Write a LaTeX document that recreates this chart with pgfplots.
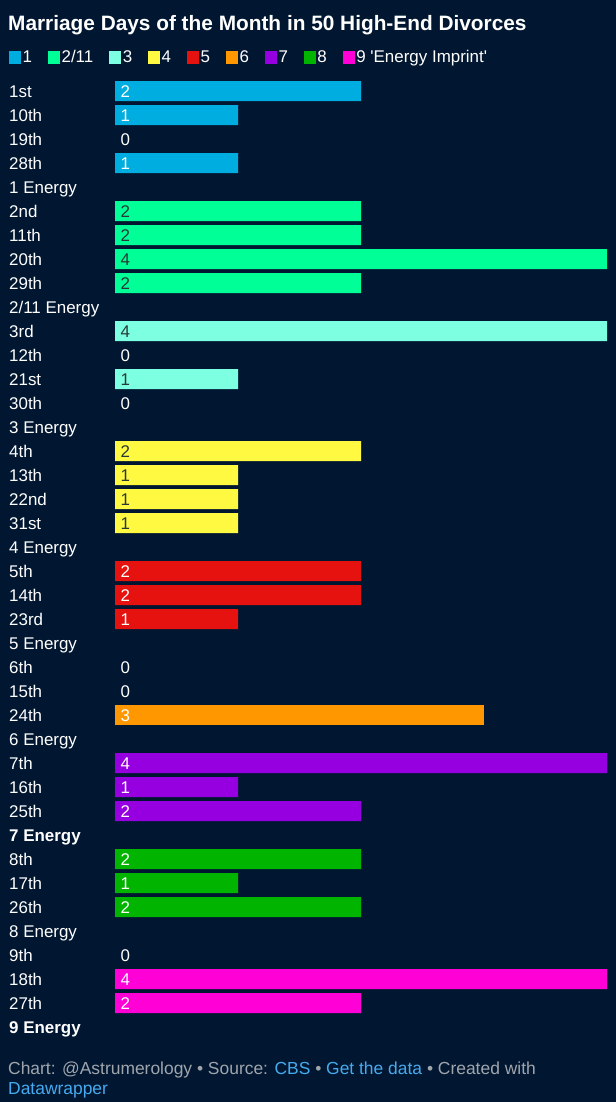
\documentclass[border=0pt]{standalone}
\usepackage{pgfplots}
\usepackage{pgfplotstable}
\pgfplotsset{compat=1.18}
\usepackage{fontspec}
\setmainfont{Liberation Sans}
\definecolor{bg}{RGB}{1,23,49}
\definecolor{cA}{RGB}{0,173,224}
\definecolor{cB}{RGB}{0,255,150}
\definecolor{cC}{RGB}{125,255,225}
\definecolor{cD}{RGB}{255,250,65}
\definecolor{cE}{RGB}{230,18,15}
\definecolor{cF}{RGB}{255,152,0}
\definecolor{cG}{RGB}{150,0,225}
\definecolor{cH}{RGB}{0,180,0}
\definecolor{cI}{RGB}{255,0,215}
\definecolor{darktxt}{RGB}{40,55,55}
\definecolor{foot}{RGB}{160,165,172}
\definecolor{link}{RGB}{70,170,240}

\pgfplotstableread{
y v
0 2
1 1
2 0
3 1
}\tA
\pgfplotstableread{
y v
5 2
6 2
7 4
8 2
}\tB
\pgfplotstableread{
y v
10 4
11 0
12 1
13 0
}\tC
\pgfplotstableread{
y v
15 2
16 1
17 1
18 1
}\tD
\pgfplotstableread{
y v
20 2
21 2
22 1
}\tE
\pgfplotstableread{
y v
24 0
25 0
26 3
}\tF
\pgfplotstableread{
y v
28 4
29 1
30 2
}\tG
\pgfplotstableread{
y v
32 2
33 1
34 2
}\tH
\pgfplotstableread{
y v
36 0
37 4
38 2
}\tI

\newcommand\lblfont{\fontsize{17}{20}\selectfont}
\newcommand\grp[3]{%
  \addplot[xbar, bar shift=0pt, bar width=20bp, fill=#2, draw=none,
    restrict expr to domain={\thisrow{v}}{0.5:10}] table[x=v,y=y]{#1};
  \addplot[forget plot, draw=none, nodes near coords, point meta=explicit,
    restrict expr to domain={\thisrow{v}}{0.5:10},
    nodes near coords style={anchor=base west, inner sep=0pt, xshift=5.5bp, yshift=-6bp, text=#3, font=\lblfont}]
    table[x expr=0,y=y,meta=v]{#1};
  \addplot[forget plot, draw=none, nodes near coords, point meta=explicit,
    restrict expr to domain={\thisrow{v}}{-1:0.5},
    nodes near coords style={anchor=base west, inner sep=0pt, xshift=5.5bp, yshift=-6bp, text=white, font=\lblfont}]
    table[x expr=0,y=y,meta=v]{#1};
}

\begin{document}
\begin{tikzpicture}
\fill[bg] (0bp,0bp) rectangle (616bp,-1102bp);
\useasboundingbox (0bp,0bp) rectangle (616bp,-1102bp);
\node[anchor=base west, inner sep=0pt, text=white, font=\bfseries\fontsize{20.9}{24}\selectfont] at (8bp,-30bp) {Marriage Days of the Month in 50 High-End Divorces};
\begin{axis}[
  at={(115bp,-79bp)}, anchor=north west,
  scale only axis, width=492bp, height=960bp,
  xmin=0, xmax=4, ymin=-0.5, ymax=39.5,
  y dir=reverse, clip=false,
  axis line style={draw=none}, major tick length=0pt,
  xtick=\empty,
  ytick={0,...,39},
  yticklabels={1st,10th,19th,28th,1 Energy,2nd,11th,20th,29th,2/11 Energy,3rd,12th,21st,30th,3 Energy,4th,13th,22nd,31st,4 Energy,5th,14th,23rd,5 Energy,6th,15th,24th,6 Energy,7th,16th,25th,{\bfseries 7 Energy},8th,17th,26th,8 Energy,9th,18th,27th,{\bfseries 9 Energy}},
  yticklabel style={anchor=base west, inner sep=0pt, xshift=-106bp, yshift=-6bp, text=white, font=\lblfont},
  /pgf/number format/assume math mode=true,
  legend columns=-1,
  legend image code/.code={\draw[#1,draw=none] (0bp,-6.5bp) rectangle (12bp,6.5bp);},
  legend style={draw=none, fill=none, text=white, font=\lblfont,
    at={(axis description cs:0,1)}, anchor=west, xshift=-106bp, yshift=22bp,
    inner sep=0pt, nodes={inner sep=1.5bp},
    /tikz/every even column/.append style={column sep=14.5bp}},
]
\grp{\tA}{cA}{white}
\grp{\tB}{cB}{darktxt}
\grp{\tC}{cC}{darktxt}
\grp{\tD}{cD}{darktxt}
\grp{\tE}{cE}{white}
\grp{\tF}{cF}{white}
\grp{\tG}{cG}{white}
\grp{\tH}{cH}{white}
\grp{\tI}{cI}{white}
\legend{1,2/11,3,4,5,6,7,8,{9 \textquotesingle Energy Imprint\textquotesingle}}
\end{axis}
\node[anchor=base west, inner sep=0pt, text=foot, font=\fontsize{17.5}{20}\selectfont] at (8bp,-1074bp) {Chart: @Astrumerology • Source: \textcolor{link}{CBS} • \textcolor{link}{Get the data} • Created with};
\node[anchor=base west, inner sep=0pt, text=link, font=\fontsize{17.5}{20}\selectfont] at (8bp,-1094bp) {Datawrapper};
\end{tikzpicture}
\end{document}
